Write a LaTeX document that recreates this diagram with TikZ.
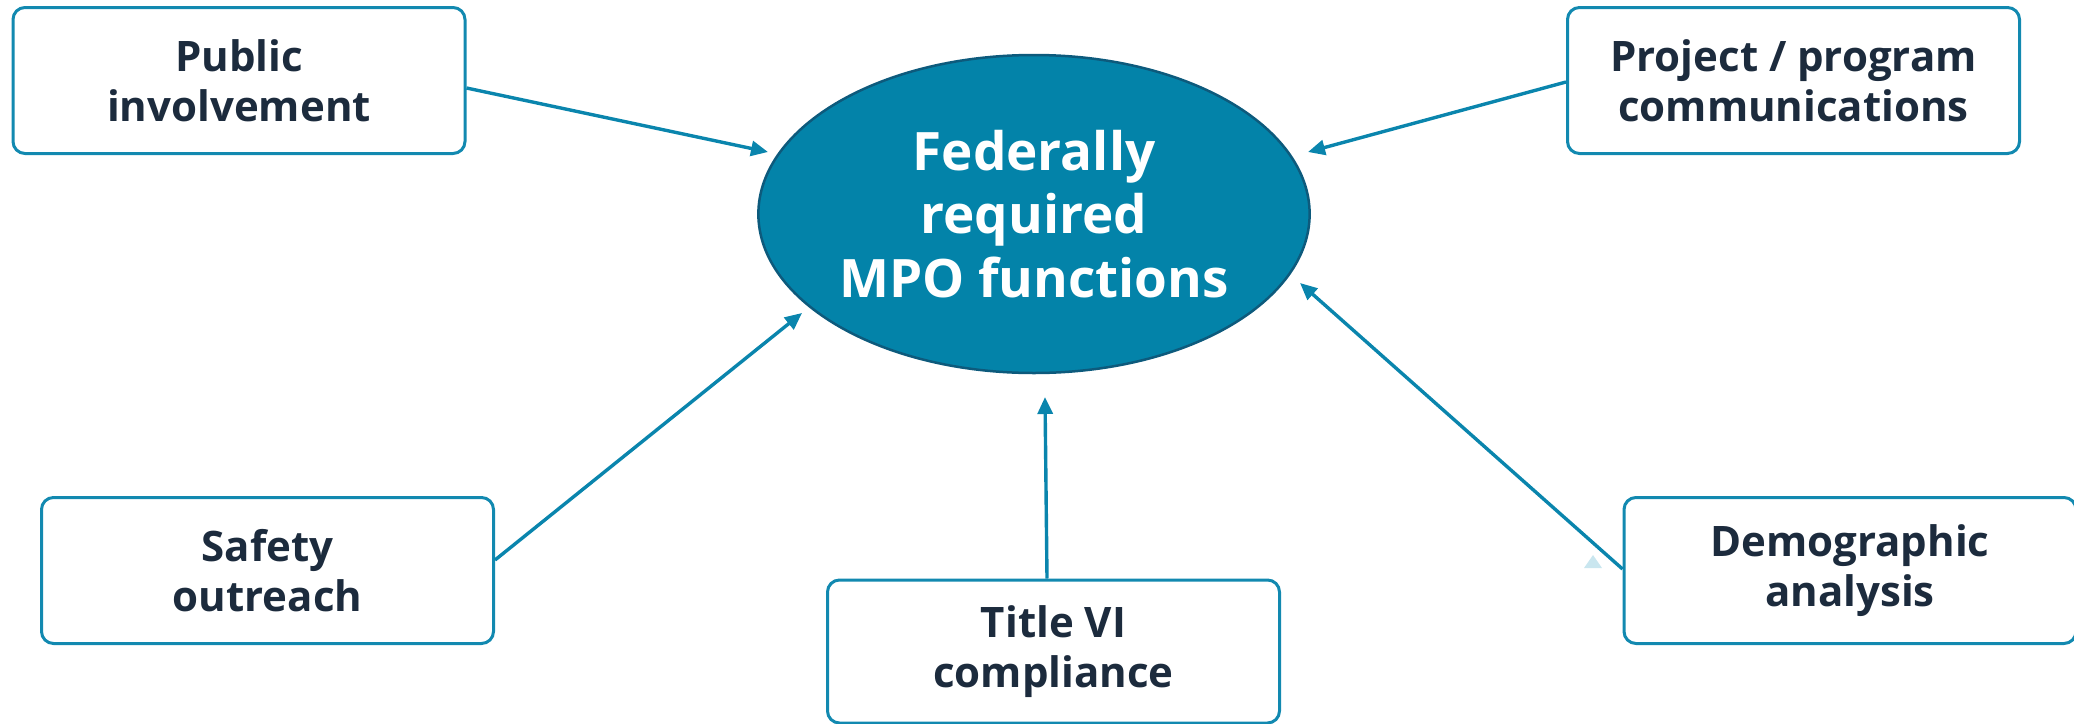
\documentclass[tikz,border=0pt]{standalone}
\usepackage{fontspec}
\setmainfont{Open Sans}
\usetikzlibrary{shapes.geometric,arrows.meta}
\definecolor{lineblue}{HTML}{0A85AD}
\definecolor{boxblue}{HTML}{1289B0}
\definecolor{ellfill}{HTML}{0383A9}
\definecolor{elldraw}{HTML}{0D5A7C}
\definecolor{navy}{HTML}{1C2B3D}
\definecolor{ghost}{HTML}{C9E6EF}
\tikzset{
  fbox/.style={draw=boxblue, line width=3pt, rounded corners=12pt, fill=white,
    minimum width=452pt, minimum height=146pt, align=center, text=navy,
    font=\fontsize{42}{50}\selectfont\bfseries, inner sep=0pt},
  core/.style={ellipse, draw=elldraw, line width=2.5pt, fill=ellfill,
    minimum width=546pt, minimum height=318pt, inner sep=0pt, align=center,
    text=white, font=\fontsize{53}{63.5}\selectfont\bfseries},
  conn/.style={draw=lineblue, line width=3.4pt,
    -{Triangle[length=17pt,width=15pt]}},
}
\begin{document}
\begin{tikzpicture}[x=1pt,y=-1pt]
\useasboundingbox (0,0) rectangle (2074,723);
\node[core] (mpo) at (1034,214) {Federally\\required\\MPO functions};
\node[fbox] (pub) at (239,80.5) {Public\\involvement};
\node[fbox] (proj) at (1793.5,80.5) {Project / program\\communications};
\node[fbox] (safe) at (267.5,570.5) {Safety\\outreach};
\node[fbox] (demo) at (1850,570.5) {Demographic\\analysis};
\node[fbox, minimum height=143pt] (title) at (1053.5,651.5) {Title VI\\compliance};
\coordinate (tpub) at (768,152);
\coordinate (tproj) at (1308,152);
\coordinate (tsafe) at (802,313);
\coordinate (ttitle) at (1045,397);
\coordinate (tdemo) at (1300,283);
\draw[conn] ([yshift=-7.5pt]pub.east) -- (tpub);
\draw[conn] ([yshift=-1.5pt]proj.west) -- (tproj);
\draw[conn] ([yshift=10.5pt]safe.east) -- (tsafe);
\draw[conn] ([xshift=-6.5pt]title.north) -- (ttitle);
\draw[conn] ([yshift=1.5pt]demo.west) -- (tdemo);
\fill[ghost] (1584,568) -- (1602,568) -- (1593,555) -- cycle;
\end{tikzpicture}
\end{document}
